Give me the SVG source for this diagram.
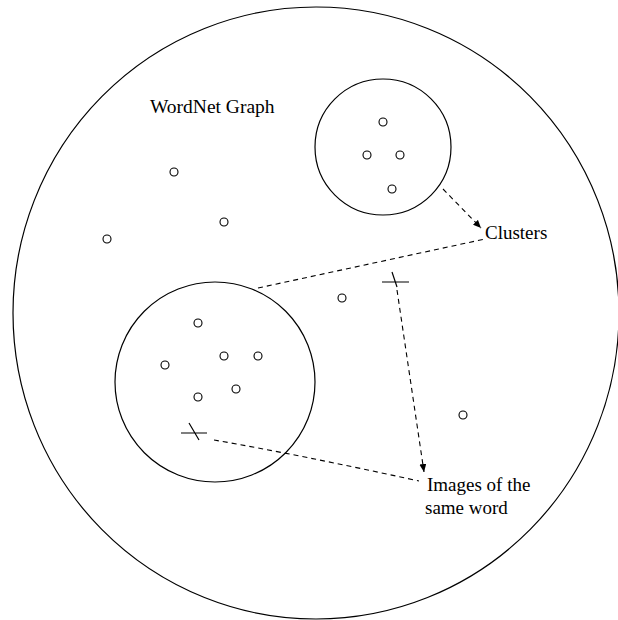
<svg xmlns="http://www.w3.org/2000/svg" width="618" height="620" viewBox="0 0 618 620">
<defs>
<style>
.ln{fill:none;stroke:#000;stroke-width:1.2}
.nd{fill:#fff;stroke:#000;stroke-width:1.1}
.ds{fill:none;stroke:#000;stroke-width:1.1;stroke-dasharray:5,4}
.tx{font-family:"Liberation Serif","Times New Roman",serif;font-size:19px;fill:#000}
</style>
<marker id="ah" markerWidth="8" markerHeight="7" refX="8" refY="3.5" orient="auto" markerUnits="userSpaceOnUse">
<path d="M0,0 L8,3.5 L0,7 Z" fill="#000"/>
</marker>
</defs>
<rect width="618" height="620" fill="#fff"/>
<g id="graph">
<ellipse class="ln" cx="316" cy="313" rx="303" ry="306"/>
<text class="tx" x="150" y="113" style="font-size:19.5px">WordNet Graph</text>
</g>
<g id="cluster-top">
<circle class="ln" cx="383" cy="147" r="68"/>
<circle class="nd" cx="383" cy="122" r="4"/>
<circle class="nd" cx="367" cy="155" r="4"/>
<circle class="nd" cx="400" cy="155" r="4"/>
<circle class="nd" cx="392" cy="189" r="4"/>
</g>
<g id="cluster-bottom">
<circle class="ln" cx="215" cy="382" r="100"/>
<circle class="nd" cx="198" cy="323" r="4"/>
<circle class="nd" cx="224" cy="356" r="4"/>
<circle class="nd" cx="258" cy="356" r="4"/>
<circle class="nd" cx="165" cy="365" r="4"/>
<circle class="nd" cx="236" cy="389" r="4"/>
<circle class="nd" cx="198" cy="397" r="4"/>
<path class="ln" d="M181,433 H207 M189,423 L199,440"/>
</g>
<g id="free-nodes">
<circle class="nd" cx="174" cy="172" r="4"/>
<circle class="nd" cx="224" cy="222" r="4"/>
<circle class="nd" cx="107" cy="239" r="4"/>
<circle class="nd" cx="342" cy="298" r="4"/>
<circle class="nd" cx="463" cy="415" r="4"/>
</g>
<g id="word-image">
<path class="ln" d="M382,282 H409 M392,272 L397,287"/>
</g>
<g id="label-clusters">
<text class="tx" x="485" y="239">Clusters</text>
</g>
<g id="label-images">
<text class="tx" x="427" y="491">Images of the</text>
<text class="tx" x="425" y="514">same word</text>
</g>
<g id="connectors">
<line class="ds" x1="443" y1="189" x2="481" y2="228" marker-end="url(#ah)"/>
<line class="ds" x1="258" y1="288" x2="485" y2="239"/>
<line class="ds" x1="397" y1="290" x2="424" y2="472" marker-end="url(#ah)"/>
<path class="ds" d="M214,440 Q300,455 419,481"/>
</g>
</svg>
